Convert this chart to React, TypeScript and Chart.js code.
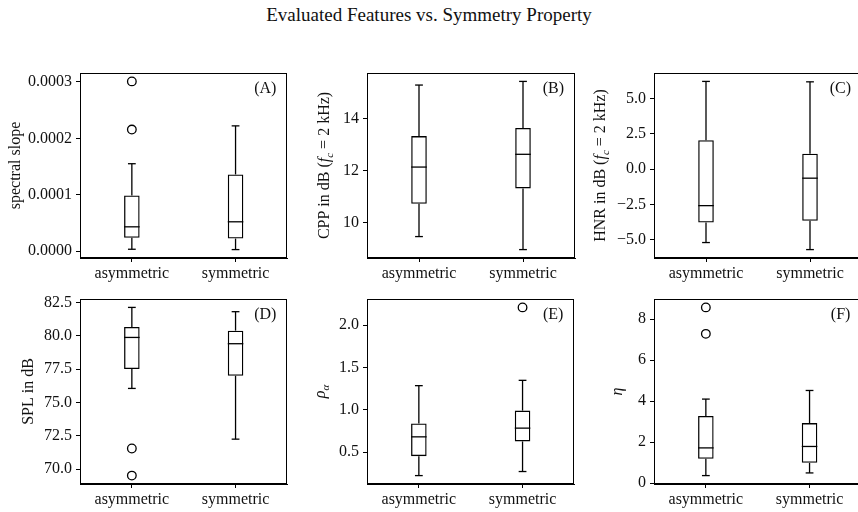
import React, { useEffect, useRef } from "react";
import { Chart, registerables } from "chart.js";

Chart.register(...registerables);

const categories = ["asymmetric", "symmetric"];

// Box summaries: [lower whisker, Q1, median, Q3, upper whisker]
const slopeAsym = [0.0000036, 0.0000238, 0.0000433, 0.0000989, 0.000155];
const slopeSym = [0.000003, 0.0000225, 0.0000522, 0.000136, 0.000222];
const slopeOutAsym = [0.0002155, 0.0003007];
const slopeOutSym: number[] = [];
const slopeTicks = [0, 0.0001, 0.0002, 0.0003];

const cppAsym = [9.47, 10.73, 12.14, 13.33, 15.29];
const cppSym = [8.97, 11.32, 12.63, 13.64, 15.43];
const cppOutAsym: number[] = [];
const cppOutSym: number[] = [];
const cppTicks = [10, 12, 14];

const hnrAsym = [-5.21, -3.79, -2.59, 2.06, 6.23];
const hnrSym = [-5.71, -3.67, -0.64, 1.09, 6.2];
const hnrOutAsym: number[] = [];
const hnrOutSym: number[] = [];
const hnrTicks = [-5, -2.5, 0, 2.5, 5];

const splAsym = [76.05, 77.5, 79.87, 80.65, 82.12];
const splSym = [72.25, 77.0, 79.4, 80.38, 81.8];
const splOutAsym = [71.55, 69.52];
const splOutSym: number[] = [];
const splTicks = [70, 72.5, 75, 77.5, 80, 82.5];

const rhoAsym = [0.222, 0.452, 0.68, 0.837, 1.285];
const rhoSym = [0.27, 0.626, 0.783, 0.99, 1.348];
const rhoOutAsym: number[] = [];
const rhoOutSym = [2.21];
const rhoTicks = [0.5, 1.0, 1.5, 2.0];

const etaAsym = [0.37, 1.19, 1.72, 3.28, 4.1];
const etaSym = [0.5, 0.99, 1.79, 2.93, 4.52];
const etaOutAsym = [7.28, 8.57];
const etaOutSym: number[] = [];
const etaTicks = [0, 2, 4, 6, 8];

const FONT = "'Liberation Serif', 'Times New Roman', serif";
const FS = 16;
const INK = "#111";

type Seg = { t: string; it?: boolean; sub?: boolean };

type PanelCfg = {
  letter: string;
  px: number;
  py: number;
  asym: number[];
  sym: number[];
  outAsym: number[];
  outSym: number[];
  ticks: number[];
  fmt: (v: number) => string;
  label: Seg[];
  labelOffset: number;
};

const fc: Seg[] = [
  { t: "f", it: true },
  { t: "c", it: true, sub: true },
];

const minus = (s: string) => s.replace("-", "\u2212");

const panels: PanelCfg[] = [
  {
    letter: "(A)", px: 80, py: 73,
    asym: slopeAsym, sym: slopeSym, outAsym: slopeOutAsym, outSym: slopeOutSym,
    ticks: slopeTicks, fmt: (v) => v.toFixed(4),
    label: [{ t: "spectral slope" }], labelOffset: 60,
  },
  {
    letter: "(B)", px: 367, py: 73,
    asym: cppAsym, sym: cppSym, outAsym: cppOutAsym, outSym: cppOutSym,
    ticks: cppTicks, fmt: (v) => v.toFixed(0),
    label: [{ t: "CPP in dB (" }, ...fc, { t: " = 2 kHz)" }], labelOffset: 38,
  },
  {
    letter: "(C)", px: 654, py: 73,
    asym: hnrAsym, sym: hnrSym, outAsym: hnrOutAsym, outSym: hnrOutSym,
    ticks: hnrTicks, fmt: (v) => minus(v.toFixed(1)),
    label: [{ t: "HNR in dB (" }, ...fc, { t: " = 2 kHz)" }], labelOffset: 49,
  },
  {
    letter: "(D)", px: 80, py: 299,
    asym: splAsym, sym: splSym, outAsym: splOutAsym, outSym: splOutSym,
    ticks: splTicks, fmt: (v) => v.toFixed(1),
    label: [{ t: "SPL in dB" }], labelOffset: 47,
  },
  {
    letter: "(E)", px: 367, py: 299,
    asym: rhoAsym, sym: rhoSym, outAsym: rhoOutAsym, outSym: rhoOutSym,
    ticks: rhoTicks, fmt: (v) => v.toFixed(1),
    label: [{ t: "\u03c1", it: true }, { t: "\u03b1", it: true, sub: true }], labelOffset: 42,
  },
  {
    letter: "(F)", px: 654, py: 299,
    asym: etaAsym, sym: etaSym, outAsym: etaOutAsym, outSym: etaOutSym,
    ticks: etaTicks, fmt: (v) => v.toFixed(0),
    label: [{ t: "\u03b7", it: true }], labelOffset: 32,
  },
];

const PW = 208;
const PH = 185;
const PAD_L = 80;
const PAD_T = 15;
const PAD_R = 5;
const PAD_B = 35;

function makeBoxPlugin(cfg: PanelCfg) {
  return {
    id: "boxParts",
    afterDatasetsDraw(chart: any) {
      const { ctx, chartArea, scales } = chart;
      const xs = scales.x;
      const ys = scales.y;
      const meta = chart.getDatasetMeta(0);
      const stats = [cfg.asym, cfg.sym];
      ctx.save();
      ctx.strokeStyle = "#000";
      ctx.lineWidth = 1.3;
      const seg = (x1: number, y1: number, x2: number, y2: number) => {
        ctx.beginPath();
        ctx.moveTo(x1, y1);
        ctx.lineTo(x2, y2);
        ctx.stroke();
      };
      stats.forEach((s, i) => {
        const bar = meta.data[i];
        const cx = xs.getPixelForValue(i);
        const half = bar.width / 2;
        const cap = half / 2;
        const lo = ys.getPixelForValue(s[0]);
        const q1 = ys.getPixelForValue(s[1]);
        const med = ys.getPixelForValue(s[2]);
        const q3 = ys.getPixelForValue(s[3]);
        const hi = ys.getPixelForValue(s[4]);
        seg(cx, lo, cx, q1);
        seg(cx, q3, cx, hi);
        seg(cx - cap, lo, cx + cap, lo);
        seg(cx - cap, hi, cx + cap, hi);
        seg(cx - half, med, cx + half, med);
      });
      // closing frame
      ctx.lineWidth = 1;
      ctx.strokeRect(
        Math.round(chartArea.left) + 0.5,
        Math.round(chartArea.top) + 0.5,
        Math.round(chartArea.right - chartArea.left) - 1,
        Math.round(chartArea.bottom - chartArea.top) - 1
      );
      // panel letter
      ctx.fillStyle = INK;
      ctx.font = `${FS}px ${FONT}`;
      ctx.textAlign = "right";
      ctx.textBaseline = "top";
      ctx.fillText(cfg.letter, chartArea.right - 11, chartArea.top + 8);
      // y-axis label with italic and subscript parts
      const fontOf = (p: Seg) =>
        `${p.it ? "italic " : ""}${p.sub ? Math.round(FS * 0.7) : FS}px ${FONT}`;
      let total = 0;
      const widths = cfg.label.map((p) => {
        ctx.font = fontOf(p);
        const w = ctx.measureText(p.t).width;
        total += w;
        return w;
      });
      ctx.translate(chartArea.left - cfg.labelOffset, (chartArea.top + chartArea.bottom) / 2);
      ctx.rotate(-Math.PI / 2);
      ctx.textAlign = "left";
      ctx.textBaseline = "alphabetic";
      let x = -total / 2;
      cfg.label.forEach((p, k) => {
        ctx.font = fontOf(p);
        ctx.fillText(p.t, x, p.sub ? 3.5 : 0);
        x += widths[k];
      });
      ctx.restore();
    },
  };
}

function Panel({ cfg }: { cfg: PanelCfg }) {
  const ref = useRef<HTMLCanvasElement | null>(null);
  const w = PW + PAD_L + PAD_R;
  const h = PH + PAD_T + PAD_B;

  useEffect(() => {
    if (!ref.current) return;
    const all = [...cfg.asym, ...cfg.sym, ...cfg.outAsym, ...cfg.outSym];
    const lo = Math.min(...all);
    const hi = Math.max(...all);
    const margin = (hi - lo) * 0.05;
    const outliers = [
      ...cfg.outAsym.map((v) => ({ x: categories[0], y: v })),
      ...cfg.outSym.map((v) => ({ x: categories[1], y: v })),
    ];
    const tickFont = { family: FONT, size: FS };
    const chart = new Chart(ref.current, {
      type: "bar",
      data: {
        labels: categories,
        datasets: [
          {
            type: "bar",
            data: [
              [cfg.asym[1], cfg.asym[3]],
              [cfg.sym[1], cfg.sym[3]],
            ],
            backgroundColor: "rgba(0,0,0,0)",
            borderColor: "#000",
            borderWidth: 1.3,
            borderSkipped: false,
            barPercentage: 0.15,
            categoryPercentage: 1,
          } as any,
          {
            type: "line",
            data: outliers as any,
            showLine: false,
            pointStyle: "circle",
            pointRadius: 4.3,
            pointBorderWidth: 1.3,
            pointBorderColor: "#000",
            pointBackgroundColor: "rgba(0,0,0,0)",
          } as any,
        ],
      },
      options: {
        animation: false,
        responsive: false,
        events: [],
        layout: { padding: { top: PAD_T, right: PAD_R, left: 0, bottom: 0 } },
        plugins: { legend: { display: false }, tooltip: { enabled: false }, title: { display: false } },
        scales: {
          x: {
            type: "category",
            offset: true,
            grid: { display: true, drawOnChartArea: false, drawTicks: true, tickLength: 4, offset: false, color: "#000" },
            border: { display: true, color: "#000", width: 1 },
            ticks: { font: tickFont, color: INK, padding: 2, maxRotation: 0 },
            afterFit: (s: any) => {
              s.height = PAD_B;
            },
          },
          y: {
            type: "linear",
            min: lo - margin,
            max: hi + margin,
            afterBuildTicks: (s: any) => {
              s.ticks = cfg.ticks.map((v) => ({ value: v }));
            },
            grid: { display: true, drawOnChartArea: false, drawTicks: true, tickLength: 4, color: "#000" },
            border: { display: true, color: "#000", width: 1 },
            ticks: {
              font: tickFont,
              color: INK,
              padding: 4,
              callback: (v: any) => cfg.fmt(Number(v)),
            },
            afterFit: (s: any) => {
              s.width = PAD_L;
            },
          },
        },
      } as any,
      plugins: [makeBoxPlugin(cfg)],
    });
    return () => chart.destroy();
  }, [cfg]);

  return (
    <canvas
      ref={ref}
      width={w}
      height={h}
      style={{ position: "absolute", left: cfg.px - PAD_L, top: cfg.py - PAD_T, width: w, height: h }}
    />
  );
}

export default function App() {
  return (
    <div
      style={{
        position: "absolute",
        left: 0,
        top: 0,
        width: 858,
        height: 512,
        overflow: "hidden",
        background: "#fff",
      }}
    >
      <div
        style={{
          position: "absolute",
          left: 0,
          top: 2,
          width: 858,
          lineHeight: "26px",
          textAlign: "center",
          fontFamily: FONT,
          fontSize: 19,
          color: INK,
        }}
      >
        Evaluated Features vs. Symmetry Property
      </div>
      {panels.map((p) => (
        <Panel key={p.letter} cfg={p} />
      ))}
    </div>
  );
}
